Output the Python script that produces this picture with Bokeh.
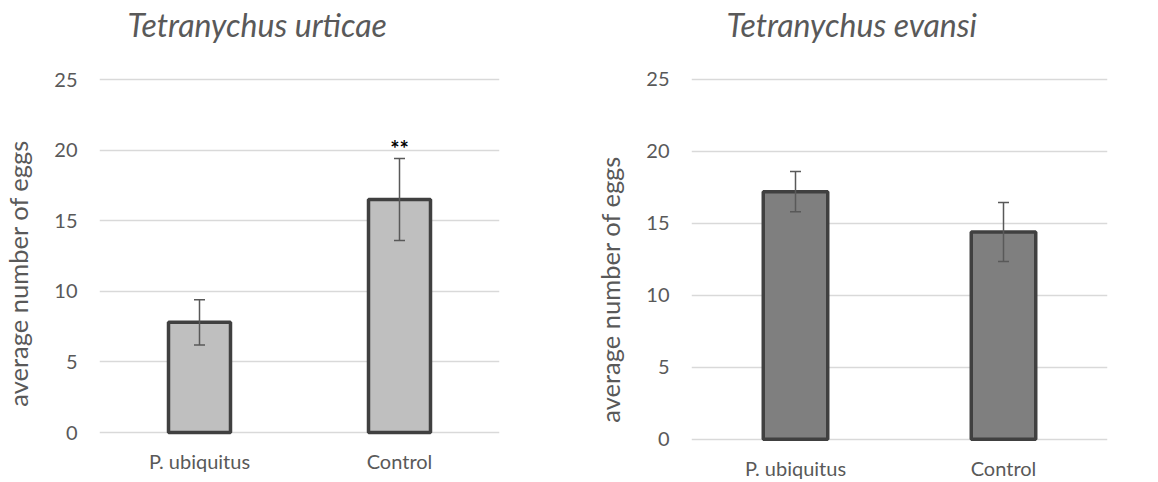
from bokeh.plotting import figure
from bokeh.models import ColumnDataSource, Whisker, TeeHead, Label, FixedTicker, Range1d
from bokeh.layouts import row
from bokeh.embed import file_html
from bokeh.resources import INLINE

categories = ["P. ubiquitus", "Control"]
urticae_means = [7.8, 16.5]
urticae_err = [1.6, 2.9]
evansi_means = [17.2, 14.4]
evansi_err = [1.4, 2.05]
y_ticks = [0, 5, 10, 15, 20, 25]
titles = ["Tetranychus urticae", "Tetranychus evansi"]
ylabel = "average number of eggs"

FONT = "Lato"
TXT = "#595959"


def make_chart(title, means, errs, fill, width, yr, bl, br, title_off,
               xstand, label_pad, sig=None):
    src = ColumnDataSource(dict(
        cat=categories, val=means,
        upper=[m + e for m, e in zip(means, errs)],
        lower=[m - e for m, e in zip(means, errs)],
    ))
    p = figure(x_range=categories, y_range=Range1d(*yr), width=width, height=482,
               output_backend="svg", toolbar_location=None,
               min_border_left=bl, min_border_right=br, min_border_top=45, min_border_bottom=39)
    p.outline_line_color = None
    p.title.text = title
    p.title.align = "left"
    p.title.offset = title_off
    p.title.text_font = FONT
    p.title.text_font_style = "italic"
    p.title.text_font_size = "32px"
    p.title.text_color = TXT
    p.title.standoff = 4
    p.vbar(x="cat", top="val", width=0.31, source=src, fill_color=fill,
           line_color="#404040", line_width=3.5)
    p.add_layout(Whisker(source=src, base="cat", upper="upper", lower="lower",
                         level="annotation",
                         line_color="#595959", line_width=1.5,
                         upper_head=TeeHead(size=11, line_color="#595959", line_width=1.5),
                         lower_head=TeeHead(size=11, line_color="#595959", line_width=1.5)))
    p.xgrid.grid_line_color = None
    p.ygrid.grid_line_color = "#d9d9d9"
    p.ygrid.grid_line_width = 1.5
    p.yaxis.ticker = FixedTicker(ticks=y_ticks)
    for ax in (p.xaxis, p.yaxis):
        ax.axis_line_color = None
        ax.major_tick_line_color = None
        ax.minor_tick_line_color = None
        ax.major_tick_out = 0
        ax.major_tick_in = 0
        ax.major_label_text_font = FONT
        ax.major_label_text_color = TXT
    p.yaxis.major_label_text_font_size = "20px"
    p.xaxis.major_label_text_font_size = "20px"
    p.yaxis.major_label_standoff = 22
    p.xaxis.major_label_standoff = xstand
    p.yaxis.axis_label = ylabel + label_pad
    p.yaxis.axis_label_text_font = FONT
    p.yaxis.axis_label_text_font_style = "normal"
    p.yaxis.axis_label_text_font_size = "25.5px"
    p.yaxis.axis_label_text_color = TXT
    p.yaxis.axis_label_standoff = 18
    if sig is not None:
        idx, txt = sig
        p.add_layout(Label(x=idx + 0.5, y=means[idx] + errs[idx] + 0.7, text=txt,
                           text_font=FONT, text_font_style="bold", text_font_size="22px",
                           text_color="#000000", text_align="center",
                           text_baseline="alphabetic"))
    return p


left = make_chart(titles[0], urticae_means, urticae_err, "#bfbfbf", 578, (-0.779, 27.408),
                  96, 79, 28, 5, "\u2003\u2003\u2002\u2005", sig=(1, "**"))
right = make_chart(titles[1], evansi_means, evansi_err, "#7f7f7f", 572, (-0.299, 27.363),
                   113, 43, 35, 12, "\u2003\u2003\u2003\u2003\u2002")

layout = row(left, right)
open("out.html", "w").write(file_html(layout, INLINE))
